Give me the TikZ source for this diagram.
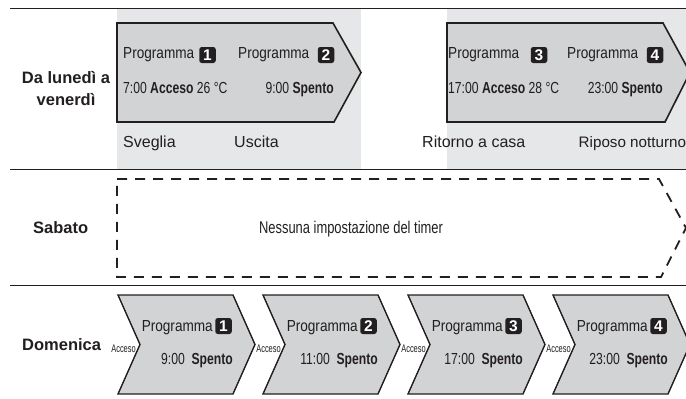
\documentclass[tikz,border=0pt]{standalone}
\usepackage{fontspec}
\setmainfont{Liberation Sans}
\newfontfamily\narrowfont[FakeStretch=0.85]{Liberation Sans}
\newfontfamily\slimfont[FakeStretch=0.76]{Liberation Sans}
\newfontfamily\tinyfont[FakeStretch=0.68]{Liberation Sans}
\definecolor{ink}{HTML}{231F20}
\definecolor{bggray}{HTML}{E6E7E8}
\definecolor{boxgray}{HTML}{D1D3D4}
\tikzset{
  rule/.style={draw=ink, line width=1.3pt},
  band/.style={fill=bggray, draw=none},
  pent/.style={draw=ink, fill=boxgray, line width=1.6pt, line join=miter},
  chev/.style={draw=ink, fill=boxgray, line width=1.4pt, line join=miter},
  dashpent/.style={draw=ink, line width=1.8pt, dash pattern=on 10pt off 8pt},
  prog/.style={font=\narrowfont\fontsize{16}{16}\selectfont, text=ink, inner sep=0pt, anchor=base west},
  numbox/.style={fill=ink, text=white, rounded corners=2.5pt, minimum width=16.5pt, minimum height=16pt, inner sep=0pt, font=\bfseries\fontsize{15.5}{15.5}\selectfont},
  detail/.style={font=\slimfont\fontsize{16}{16}\selectfont, text=ink, inner sep=0pt},
  tag/.style={font=\fontsize{16}{16}\selectfont, text=ink, inner sep=0pt, anchor=base west},
  daylabel/.style={font=\bfseries\fontsize{16.5}{22}\selectfont, text=ink, inner sep=0pt, align=center},
  acc/.style={font=\tinyfont\fontsize{11}{11}\selectfont, text=ink, inner sep=0pt, anchor=base east},
  note/.style={font=\slimfont\fontsize{17}{17}\selectfont, text=ink, inner sep=0pt, anchor=base}
}
\begin{document}
\begin{tikzpicture}[x=1pt,y=-1pt]
\clip (0,0) rectangle (686,399);
\fill[white] (0,0) rectangle (686,399);
% grey bands of the weekday row
\fill[band] (117,9) rectangle (361,169);
\fill[band] (447,9) rectangle (686,169);
% separating rules
\draw[rule] (10,8.5) -- (686,8.5);
\draw[rule] (10,169.5) -- (686,169.5);
\draw[rule] (10,285.5) -- (686,285.5);

% weekday row
\node[daylabel] (wd) at (66,89) {Da lunedì a\\venerdì};
\draw[pent] (117,23) -- (333,23) -- (361,72.5) -- (334,122) -- (117,122) -- cycle;
\draw[pent] (447,23) -- (663,23) -- (690,72.5) -- (665,122) -- (447,122) -- cycle;
\node[prog] (p1) at (123,58) {Programma};
\node[numbox] (b1) at (207.5,55) {1};
\node[prog] (p2) at (238,58) {Programma};
\node[numbox] (b2) at (326,55) {2};
\node[prog] (p3) at (448,58) {Programma};
\node[numbox] (b3) at (539,55) {3};
\node[prog] (p4) at (567,58) {Programma};
\node[numbox] (b4) at (655,55) {4};
\node[detail, anchor=base west] (t1) at (123,93) {7:00 \textbf{Acceso} 26 °C};
\node[detail, anchor=base east] (t2) at (334,93) {9:00 \textbf{Spento}};
\node[detail, anchor=base west] (t3) at (448,93) {17:00 \textbf{Acceso} 28 °C};
\node[detail, anchor=base east] (t4) at (663,93) {23:00 \textbf{Spento}};
\node[tag] (s1) at (123,147) {Sveglia};
\node[tag] (s2) at (234,147) {Uscita};
\node[tag] (s3) at (422,147) {Ritorno a casa};
\node[tag, font=\fontsize{15.2}{15.2}\selectfont] (s4) at (578.5,147) {Riposo notturno};

% saturday row
\node[daylabel, anchor=base west] (sat) at (33,233) {Sabato};
\draw[dashpent] (117,179) -- (659,179) -- (686,228) -- (661,277) -- (117,277) -- cycle;
\node[note] (none) at (351,233) {Nessuna impostazione del timer};

% sunday row
\node[daylabel, anchor=base west] (sun) at (22,350) {Domenica};
\foreach \x/\n/\tm in {118/1/9:00, 263/2/11:00, 408/3/17:00, 553/4/23:00} {
  \draw[chev] (\x,295) -- ++(115,0) -- ++(22,49.5) -- ++(-22,49.5) -- ++(-115,0) -- ++(22,-49.5) -- cycle;
  \node[acc] (acc\n) at (\x+18,352) {Acceso};
  \node[numbox] (cb\n) at (\x+105.5,326) {\n};
  \node[prog, anchor=base east] (cp\n) at (\x+95,331) {Programma};
  \node[detail, anchor=base east] (ct\n) at (\x+115,364) {\tm\ \ \textbf{Spento}};
}
\end{tikzpicture}
\end{document}
